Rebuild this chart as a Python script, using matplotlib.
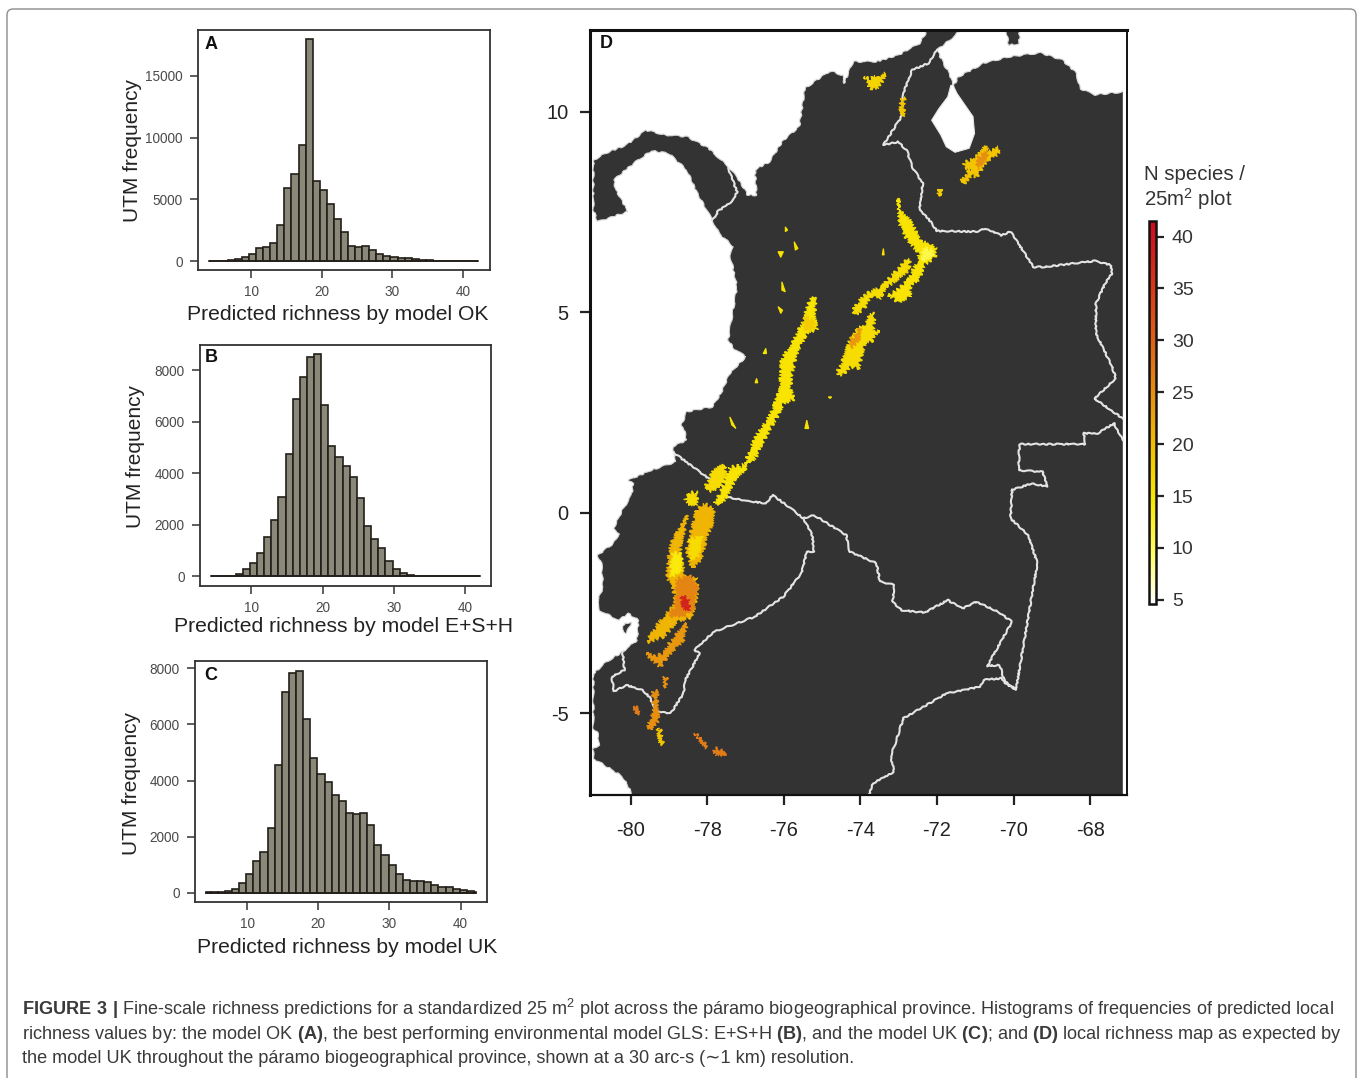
import matplotlib
matplotlib.use("Agg")
import matplotlib.pyplot as plt
from matplotlib.cm import ScalarMappable
from matplotlib.colors import LinearSegmentedColormap, Normalize
from matplotlib.patches import FancyBboxPatch, Polygon

plt.rcParams["font.family"] = ["Liberation Sans", "DejaVu Sans"]
plt.rcParams["mathtext.fontset"] = "custom"
plt.rcParams["mathtext.rm"] = "Liberation Sans"
plt.rcParams["mathtext.bf"] = "Liberation Sans:bold"
plt.rcParams["axes.unicode_minus"] = False

W, H = 1357, 1078

# histogram bins, first and last are cut short in the picture
edges_a = [4.07] + [3.72 + k for k in range(1, 39)] + [42.15]
edges_b = [4.35] + [3.79 + k for k in range(1, 39)] + [42.05]
edges_c = [4.24] + [3.88 + k for k in range(1, 39)] + [42.10]

counts_a = [0, 10, 30, 100, 190, 320, 590, 1050, 1185, 1510, 2935, 5950, 7030,
            9372, 17964, 6520, 5760, 4630, 3390, 2400, 1240, 1160, 1240, 920,
            590, 400, 350, 300, 240, 190, 130, 80, 50, 30, 20, 10, 10, 5, 5]
counts_b = [0, 0, 5, 20, 60, 270, 490, 880, 1500, 2160, 3055, 4725, 6860, 7740,
            8518, 8620, 6640, 5035, 4620, 4270, 3830, 3040, 1930, 1440, 1100,
            570, 270, 120, 50, 15, 5, 0, 0, 0, 0, 0, 0, 0, 0]
counts_c = [10, 30, 40, 50, 120, 360, 680, 1130, 1450, 2307, 4554, 7146, 7824,
            7919, 6183, 4804, 4245, 3936, 3484, 3258, 2842, 2818, 2854, 2400,
            1688, 1355, 975, 680, 450, 415, 400, 370, 285, 200, 190, 140, 95,
            50, 20]

hist_xticks = [10, 20, 30, 40]
yticks_a = [0, 5000, 10000, 15000]
yticks_bc = [0, 2000, 4000, 6000, 8000]

# map outlines as lon, lat
land_main = [(-80.97, 8.79), (-80.67, 8.96), (-80.11, 9.17), (-79.60, 9.54), (-79.09, 9.42),
             (-78.53, 9.38), (-77.97, 9.09), (-77.45, 8.63), (-77.17, 8.30), (-76.94, 7.92),
             (-76.71, 7.92), (-76.75, 8.55), (-76.38, 8.75), (-76.01, 9.29), (-75.59, 9.63),
             (-75.45, 10.58), (-74.79, 11.02), (-74.47, 10.91), (-74.42, 10.71), (-74.19, 11.25),
             (-73.58, 11.25), (-73.02, 11.41), (-72.46, 11.70), (-72.14, 12.20), (-71.20, 12.20),
             (-71.62, 11.83), (-72.00, 11.54), (-71.81, 11.16), (-71.67, 10.96), (-71.58, 10.62),
             (-71.44, 10.87), (-70.78, 11.21), (-70.13, 11.37), (-69.29, 11.47), (-68.73, 11.29),
             (-68.36, 10.96), (-68.27, 10.58), (-67.89, 10.42), (-67.10, 10.50), (-67.10, -7.30),
             (-79.79, -7.30), (-80.21, -6.58), (-80.76, -6.25), (-80.97, -6.13), (-80.97, -5.88),
             (-80.81, -5.79), (-80.86, -5.50), (-80.97, -5.38), (-80.97, -4.01), (-80.63, -3.72),
             (-80.21, -3.47), (-79.83, -3.18), (-79.79, -2.68), (-80.07, -2.51), (-80.30, -2.68),
             (-80.81, -2.43), (-80.86, -2.22), (-80.72, -1.85), (-80.76, -1.26), (-80.86, -1.06),
             (-80.44, -0.76), (-80.30, -0.52), (-80.44, -0.39), (-80.21, 0.07), (-79.97, 0.44),
             (-79.93, 0.73), (-80.07, 0.80), (-79.46, 1.06), (-78.81, 1.27), (-78.90, 1.65),
             (-78.53, 1.81), (-78.62, 2.14), (-78.67, 2.19), (-78.53, 2.52), (-77.87, 2.64),
             (-77.64, 2.98), (-77.41, 3.47), (-76.99, 3.89), (-77.31, 4.10), (-77.45, 4.31),
             (-77.22, 5.64), (-77.41, 6.47), (-77.31, 6.63), (-77.69, 6.97), (-77.87, 7.30),
             (-78.25, 7.96), (-78.53, 8.55), (-79.00, 8.96), (-79.46, 9.03), (-79.93, 8.71),
             (-80.44, 8.30), (-80.39, 8.05), (-80.07, 7.51), (-80.86, 7.26), (-80.97, 7.55)]
lake_maracaibo = [(-71.58, 10.66), (-71.48, 10.46), (-71.30, 10.21), (-71.06, 9.88), (-71.02, 9.46),
                  (-71.16, 9.09), (-71.53, 8.99), (-71.76, 9.13), (-71.90, 9.42), (-72.14, 9.79),
                  (-71.95, 10.08), (-71.72, 10.37), (-71.64, 10.66)]
paraguana = [(-70.22, 12.20), (-69.85, 12.20), (-69.85, 11.70), (-70.13, 11.66)]
puna = [(-80.16, -2.76), (-79.97, -2.72), (-80.11, -3.01), (-80.22, -2.93)]

border_col_ven = [(-72.00, 11.54), (-72.23, 11.21), (-72.65, 11.04), (-72.88, 10.46), (-72.93, 9.88),
                  (-73.40, 9.17), (-73.02, 9.25), (-72.79, 9.04), (-72.65, 8.63), (-72.37, 8.21),
                  (-72.46, 7.55), (-72.23, 7.34), (-72.00, 7.03), (-70.97, 7.01), (-70.74, 7.09),
                  (-70.32, 6.92), (-70.08, 7.01), (-69.48, 6.13), (-69.20, 6.13), (-67.89, 6.28),
                  (-67.47, 6.18), (-67.43, 5.97), (-67.61, 5.72), (-67.85, 5.22), (-67.85, 4.47),
                  (-67.43, 3.64), (-67.33, 3.35), (-67.89, 2.85), (-67.15, 2.35)]
border_col_south = [(-67.15, 1.81), (-67.38, 2.23), (-67.80, 1.98), (-68.17, 1.98), (-68.13, 1.71),
                    (-69.85, 1.71), (-69.87, 1.06), (-69.24, 1.02), (-69.12, 0.65), (-69.52, 0.73),
                    (-70.04, 0.57), (-70.08, -0.14), (-69.62, -0.56), (-69.38, -1.26), (-69.94, -4.41),
                    (-70.22, -4.26), (-70.36, -3.80), (-70.69, -3.82), (-70.04, -2.72), (-70.41, -2.47),
                    (-70.97, -2.22), (-71.34, -2.39), (-71.72, -2.18), (-72.32, -2.49), (-72.93, -2.43),
                    (-73.16, -2.22), (-73.12, -1.80), (-73.49, -1.72), (-73.58, -1.26), (-74.28, -0.97),
                    (-74.37, -0.56), (-75.21, -0.06), (-75.49, -0.14), (-75.82, 0.11), (-76.29, 0.44),
                    (-76.47, 0.23), (-77.13, 0.32), (-77.50, 0.40), (-77.59, 0.65), (-77.97, 0.86),
                    (-78.85, 1.48)]
border_ecu_per = [(-75.49, -0.14), (-75.26, -0.56), (-75.21, -0.97), (-75.40, -0.97), (-75.54, -1.51),
                  (-76.01, -2.09), (-76.75, -2.59), (-77.83, -2.97), (-78.15, -3.26), (-78.34, -3.42),
                  (-78.20, -3.51), (-78.57, -4.17), (-78.62, -4.51), (-78.95, -5.00), (-79.32, -4.96),
                  (-79.51, -4.59), (-79.69, -4.42), (-80.11, -4.30), (-80.44, -4.46), (-80.49, -4.09),
                  (-80.16, -3.92), (-80.21, -3.47)]
border_per_bra = [(-69.94, -4.41), (-70.32, -4.13), (-70.78, -4.17), (-70.88, -4.34), (-71.76, -4.51),
                  (-72.88, -5.13), (-73.12, -5.84), (-73.21, -6.08), (-73.12, -6.46), (-73.68, -6.75),
                  (-73.77, -7.04)]
border_col_pan = [(-77.45, 8.59), (-77.22, 8.00), (-77.31, 7.80), (-77.73, 7.51), (-77.78, 7.38),
                  (-77.87, 7.30)]
borders = [border_col_ven, border_col_south, border_ecu_per, border_per_bra, border_col_pan]

# paramo patches, each with the richness it shows on the colour scale
sierra = [(-73.91, 10.87), (-73.77, 10.81), (-73.63, 10.91), (-73.54, 10.81), (-73.35, 10.96),
          (-73.44, 10.75), (-73.54, 10.58), (-73.75, 10.58), (-73.82, 10.71)]
perija = [(-72.93, 10.33), (-72.85, 10.33), (-72.88, 9.88), (-72.95, 10.04)]
merida = [(-71.30, 8.71), (-70.97, 8.88), (-70.74, 9.13), (-70.64, 9.00), (-70.41, 9.13), (-70.39, 8.96),
          (-70.69, 8.75), (-70.97, 8.38), (-71.11, 8.42), (-71.30, 8.21), (-71.39, 8.25), (-71.11, 8.59),
          (-71.27, 8.59)]
merida_core = [(-70.97, 8.79), (-70.74, 9.04), (-70.69, 8.88), (-70.95, 8.59)]
tama = [(-72.00, 7.96), (-71.90, 8.09), (-71.86, 7.92)]
cocuy = [(-73.02, 7.84), (-72.97, 7.55), (-72.88, 7.42), (-72.74, 7.34), (-72.65, 7.17), (-72.51, 6.97),
         (-72.42, 6.76), (-72.18, 6.72), (-72.01, 6.59), (-72.04, 6.38), (-72.23, 6.26), (-72.35, 6.18),
         (-72.46, 5.84), (-72.70, 5.64), (-72.70, 5.39), (-73.02, 5.26), (-73.26, 5.43), (-72.98, 5.59),
         (-72.74, 5.84), (-72.51, 6.26), (-72.46, 6.47), (-72.70, 6.72), (-72.88, 6.97), (-72.97, 7.22)]
cocuy_core = [(-72.37, 6.59), (-72.09, 6.55), (-72.14, 6.38), (-72.37, 6.30)]
boyaca = [(-72.74, 6.34), (-72.70, 6.09), (-73.02, 5.84), (-73.30, 5.64), (-73.49, 5.34), (-73.72, 5.39),
          (-73.86, 5.14), (-74.14, 4.93), (-74.19, 5.05), (-73.91, 5.43), (-73.44, 5.64), (-73.12, 5.97),
          (-72.88, 6.22)]
sumapaz = [(-74.61, 3.47), (-74.42, 3.89), (-74.24, 4.39), (-74.05, 4.60), (-73.86, 4.72), (-73.77, 4.97),
           (-73.63, 4.97), (-73.68, 4.47), (-73.51, 4.56), (-73.72, 4.26), (-73.86, 4.26), (-73.96, 3.97),
           (-74.05, 3.60), (-74.28, 3.64), (-74.47, 3.43)]
sumapaz_core = [(-74.28, 4.26), (-74.00, 4.60), (-74.05, 4.31), (-74.24, 4.10)]
central = [(-75.26, 5.39), (-75.15, 5.30), (-75.21, 4.97), (-75.14, 4.56), (-75.40, 4.47), (-75.59, 4.10),
           (-75.73, 3.72), (-75.82, 3.39), (-75.82, 3.06), (-75.70, 2.85), (-76.01, 2.73), (-76.18, 2.39),
           (-76.38, 2.06), (-76.52, 1.81), (-76.68, 1.48), (-76.85, 1.23), (-77.08, 1.19), (-77.03, 1.02),
           (-76.94, 1.44), (-76.71, 1.94), (-76.43, 2.31), (-76.29, 2.56), (-76.10, 3.06), (-76.06, 3.81),
           (-75.73, 4.31), (-75.49, 4.80), (-75.35, 5.22)]
central_core = [(-75.47, 4.89), (-75.19, 4.80), (-75.26, 4.56), (-75.47, 4.60)]
narino = [(-78.06, 0.61), (-77.83, 1.06), (-77.55, 1.19), (-77.50, 0.94), (-77.69, 0.61), (-77.92, 0.52)]
narino_strip = [(-77.41, 1.11), (-77.17, 1.19), (-77.03, 1.06), (-77.27, 0.86), (-77.41, 0.52),
                (-77.64, 0.19), (-77.83, 0.23), (-77.59, 0.61)]
carchi = [(-78.48, 0.48), (-78.25, 0.52), (-78.29, 0.19), (-78.48, 0.23), (-78.57, 0.36)]
ecu_east = [(-78.11, 0.23), (-77.83, 0.11), (-77.87, -0.27), (-78.01, -0.60), (-78.15, -1.18),
            (-78.39, -1.39), (-78.53, -0.93), (-78.39, -0.35), (-78.29, 0.02)]
ecu_east_core = [(-78.48, -0.68), (-78.15, -0.56), (-78.25, -1.10), (-78.43, -1.18)]
ecu_west = [(-78.53, -0.06), (-78.62, -0.52), (-78.71, -0.85), (-78.67, -1.18), (-78.57, -1.60),
            (-78.29, -1.60), (-78.25, -1.93), (-78.34, -2.34), (-78.39, -2.59), (-78.81, -2.72),
            (-79.13, -3.09), (-79.55, -3.22), (-79.51, -3.09), (-79.18, -2.64), (-78.85, -2.30),
            (-78.85, -2.01), (-79.04, -1.60), (-79.00, -1.01), (-78.90, -0.68), (-78.67, -0.35)]
ecu_west_yellow = [(-78.92, -1.01), (-78.67, -1.01), (-78.69, -1.43), (-78.95, -1.60)]
ecu_orange = [(-78.81, -1.68), (-78.48, -1.55), (-78.27, -1.85), (-78.36, -2.43), (-78.62, -2.59),
              (-78.99, -2.59), (-78.81, -2.26)]
ecu_red = [(-78.67, -2.09), (-78.48, -2.14), (-78.48, -2.43), (-78.62, -2.39)]
ecu_lower = [(-79.04, -3.34), (-78.85, -3.09), (-78.53, -2.76), (-78.62, -3.18), (-78.85, -3.42),
             (-79.09, -3.67), (-79.23, -3.84), (-79.46, -3.63), (-79.60, -3.51), (-79.32, -3.57),
             (-79.13, -3.51)]
per_a = [(-79.13, -4.09), (-79.04, -4.17), (-79.09, -4.38)]
per_b = [(-79.41, -4.46), (-79.27, -4.46), (-79.32, -4.75), (-79.27, -5.17), (-79.46, -5.42),
         (-79.55, -5.34), (-79.41, -4.92)]
per_c = [(-79.93, -4.84), (-79.79, -4.88), (-79.79, -5.05)]
per_d = [(-79.29, -5.38), (-79.20, -5.46), (-79.16, -5.79), (-79.23, -5.75)]
per_e = [(-78.34, -5.50), (-78.11, -5.67), (-78.01, -5.88), (-78.15, -5.71)]
per_f = [(-77.83, -5.92), (-77.73, -5.88), (-77.52, -5.96), (-77.55, -6.04), (-77.78, -6.03)]
small_patches = [[(-75.96, 7.13), (-75.90, 7.05), (-75.96, 7.01)],
                 [(-75.73, 6.76), (-75.63, 6.59), (-75.70, 6.55)],
                 [(-76.15, 6.51), (-76.01, 6.51), (-76.08, 6.37)],
                 [(-76.05, 5.76), (-75.96, 5.51), (-76.05, 5.55)],
                 [(-76.15, 5.14), (-76.03, 5.05), (-76.08, 4.97)],
                 [(-76.47, 4.10), (-76.45, 3.97), (-76.54, 3.97)],
                 [(-76.71, 3.35), (-76.68, 3.24), (-76.75, 3.24)],
                 [(-77.41, 2.39), (-77.25, 2.10), (-77.36, 2.19)],
                 [(-75.40, 2.31), (-75.35, 2.10), (-75.45, 2.10)],
                 [(-74.84, 2.89), (-74.75, 2.89), (-74.79, 2.85)],
                 [(-73.40, 6.59), (-73.38, 6.43), (-73.43, 6.43)]]

patches = [(sierra, 17), (perija, 19), (merida, 19), (merida_core, 25), (tama, 18), (cocuy, 15),
           (cocuy_core, 11), (boyaca, 16), (sumapaz, 16), (sumapaz_core, 24), (central, 15),
           (central_core, 18), (narino, 16), (narino_strip, 15), (carchi, 16), (ecu_east, 21),
           (ecu_east_core, 16), (ecu_west, 21), (ecu_west_yellow, 14), (ecu_orange, 26), (ecu_red, 38),
           (ecu_lower, 24), (per_a, 25), (per_b, 25), (per_c, 27), (per_d, 19), (per_e, 27), (per_f, 27)]

map_xticks = [-80, -78, -76, -74, -72, -70, -68]
map_yticks = [-5, 0, 5, 10]
cbar_ticks = [5, 10, 15, 20, 25, 30, 35, 40]

caption_1 = r"$\mathbf{FIGURE\ 3\ |}$ Fine-scale richness predictions for a standardized 25 m$^2$ plot across the páramo biogeographical province. Histograms of frequencies of predicted local"
caption_2 = r"richness values by: the model OK $\mathbf{(A)}$, the best performing environmental model GLS: E+S+H $\mathbf{(B)}$, and the model UK $\mathbf{(C)}$; and $\mathbf{(D)}$ local richness map as expected by"
caption_3 = "the model UK throughout the páramo biogeographical province, shown at a 30 arc-s (∼1 km) resolution."


def add_ax(left, top, right, bottom):
    return fig.add_axes([left / W, 1 - bottom / H, (right - left) / W, (bottom - top) / H])


def histogram(box, edges, counts, xlim, ylim, yticks, letter, letter_xy, xlabel, xlabel_xy, ylabel_xy):
    ax = add_ax(*box)
    widths = [b - a for a, b in zip(edges[:-1], edges[1:])]
    ax.bar(edges[:-1], counts, width=widths, align="edge", color="#8a8878", edgecolor="#221f1a", linewidth=1.2)
    ax.plot([edges[0], edges[-1]], [0, 0], color="#221f1a", lw=1.2)
    ax.set_xlim(xlim)
    ax.set_ylim(ylim)
    ax.set_xticks(hist_xticks)
    ax.set_yticks(yticks)
    ax.tick_params(length=6, width=1.1, color="#333333", labelsize=9.8, labelcolor="#4a4a4a", pad=5)
    for s in ax.spines.values():
        s.set_linewidth(1.3)
        s.set_color("#333333")
    ax.set_xlabel(xlabel, fontsize=15.2, color="#222222", va="center")
    ax.xaxis.set_label_coords(*xlabel_xy)
    ax.set_ylabel("UTM frequency", fontsize=15, color="#222222", va="center")
    ax.yaxis.set_label_coords(*ylabel_xy)
    ax.text(*letter_xy, letter, transform=ax.transAxes, fontsize=13, fontweight="bold", color="#111111",
            va="center", ha="left")
    return ax


fig = plt.figure(figsize=(W / 100, H / 100), dpi=100, facecolor="white")

# card outline round the whole figure, runs off the bottom edge
fig.patches.append(FancyBboxPatch((7, -30), 1349, 1099, boxstyle="round,pad=0,rounding_size=6",
                                  transform=matplotlib.transforms.Affine2D().scale(1 / W, 1 / H) + fig.transFigure,
                                  fill=False, edgecolor="#8c8c8c", linewidth=1.0))

histogram((198, 30, 490, 270), edges_a, counts_a, (2.5, 43.8), (-703, 18698), yticks_a,
          "A", (0.024, 0.94), "Predicted richness by model OK", (0.48, -0.187), (-0.226, 0.496))
histogram((200, 345, 491, 585.7), edges_b, counts_b, (2.8, 43.6), (-375, 8971), yticks_bc,
          "B", (0.017, 0.95), "Predicted richness by model E+S+H", (0.494, -0.171), (-0.223, 0.536))
histogram((195, 661, 486.7, 901.7), edges_c, counts_c, (2.7, 43.65), (-321, 8263), yticks_bc,
          "C", (0.03, 0.94), "Predicted richness by model UK", (0.521, -0.192), (-0.216, 0.489))

# map panel
norm = Normalize(4.6, 41.5)
cmap = LinearSegmentedColormap.from_list(
    "richness", [(0, "#ffffff"), (0.12, "#ffff70"), (0.27, "#f8e800"), (0.42, "#f2bc00"),
                 (0.62, "#e07818"), (0.82, "#d83a18"), (1, "#cc0a20")])

ax_map = add_ax(589.6, 30, 1127, 795)
ax_map.set_xlim(-81.07, -67.04)
ax_map.set_ylim(-7.04, 12.04)
land_color = "#333333"
for shape in (land_main, paraguana, puna):
    p = Polygon(shape, closed=True, facecolor=land_color, edgecolor="#d8d8d8", linewidth=0.8)
    p.set_sketch_params(scale=0.7, length=14, randomness=4)
    ax_map.add_patch(p)
ax_map.add_patch(Polygon(lake_maracaibo, closed=True, facecolor="white", edgecolor="#e8e8e8", linewidth=0.8))
ax_map.fill([-67.15, -67.04, -67.04, -67.15], [-7.04, -7.04, 12.04, 12.04], color="white", zorder=1.5)

for line in borders:
    xs, ys = zip(*line)
    ln, = ax_map.plot(xs, ys, color="#e4e4e4", lw=1.5, solid_joinstyle="round", zorder=2)
    ln.set_sketch_params(scale=0.6, length=10, randomness=5)

for shape, value in patches:
    c = cmap(norm(value))
    p = Polygon(shape, closed=True, facecolor=c, edgecolor=c, linewidth=0.7, zorder=3)
    p.set_sketch_params(scale=2.0, length=4, randomness=3)
    ax_map.add_patch(p)
for shape in small_patches:
    c = cmap(norm(15))
    ax_map.add_patch(Polygon(shape, closed=True, facecolor=c, edgecolor=c, linewidth=0.8, zorder=3))

ax_map.set_xticks(map_xticks)
ax_map.set_yticks(map_yticks)
ax_map.tick_params(length=7, width=1.6, color="#222222", labelsize=14.4, labelcolor="#222222")
ax_map.tick_params(axis="x", pad=12)
ax_map.tick_params(axis="y", pad=8)
ax_map.spines["left"].set_linewidth(2.2)
ax_map.spines["top"].set_linewidth(2.2)
ax_map.spines["right"].set_linewidth(1.4)
ax_map.spines["bottom"].set_linewidth(1.6)
for s in ax_map.spines.values():
    s.set_color("#111111")
ax_map.text(0.0195, 0.982, "D", transform=ax_map.transAxes, fontsize=13, fontweight="bold", color="#111111",
            va="center", ha="left", zorder=5)

# colour scale
cax = add_ax(1149, 221, 1156, 604)
cb = fig.colorbar(ScalarMappable(norm=norm, cmap=cmap), cax=cax)
cb.set_ticks(cbar_ticks)
cax.tick_params(length=6, width=1.6, color="#222222", labelsize=14, labelcolor="#333333", pad=5.5)
cb.outline.set_linewidth(1.8)
cb.outline.set_edgecolor("#111111")
fig.text(1144 / W, 1 - 174 / H, "N species /", fontsize=14.7, color="#333333", va="center")
fig.text(1144 / W, 1 - 199 / H, "25m$^2$ plot", fontsize=14.7, color="#333333", va="center")

# caption
for text, y in zip((caption_1, caption_2, caption_3), (1015, 1039, 1063)):
    fig.text(22 / W, 1 - y / H, text, fontsize=13.05, color="#3a3a3a", va="baseline", ha="left")

fig.savefig("out.png", dpi=100)
